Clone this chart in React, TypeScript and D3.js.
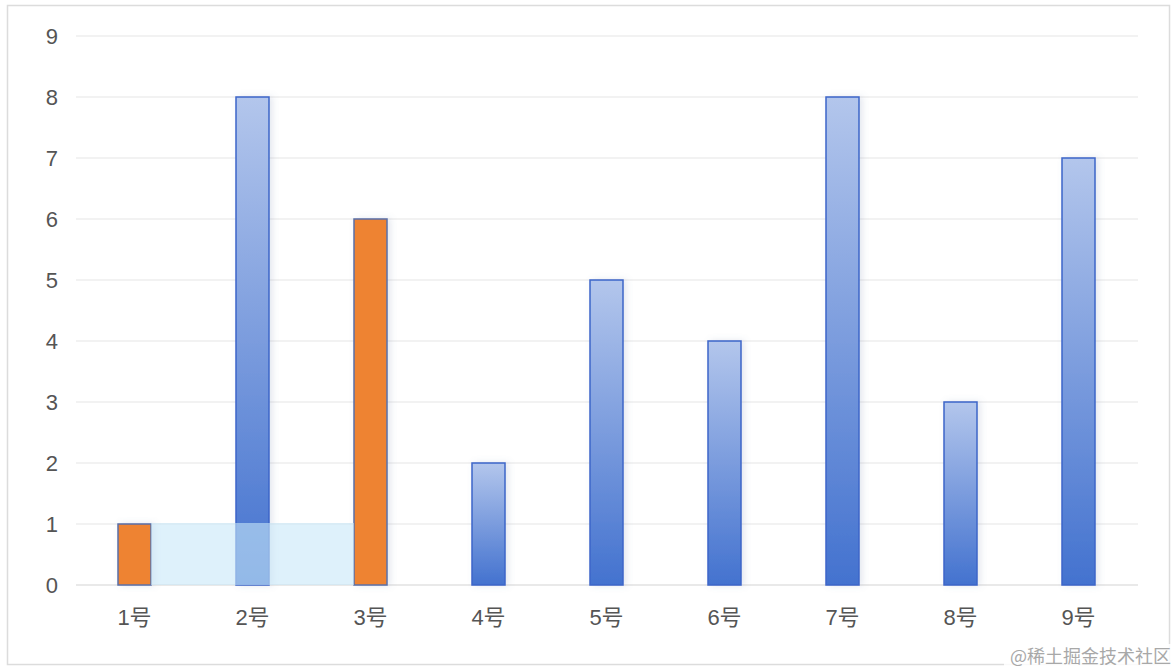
import React from "react";
import * as d3 from "d3";

const categories = ["1号", "2号", "3号", "4号", "5号", "6号", "7号", "8号", "9号"];
const values = [1, 8, 6, 2, 5, 4, 8, 3, 7];
const highlighted = ["1号", "3号"];
const yTicks = [0, 1, 2, 3, 4, 5, 6, 7, 8, 9];
const bandStart = "1号";
const bandEnd = "3号";
const bandValue = 1;
const watermark = "@稀土掘金技术社区";

const W = 1176;
const H = 672;
const FONT = "'Liberation Sans', 'Noto Sans CJK SC', Arial, sans-serif";

export default function App() {
  const x = d3.scaleBand<string>().domain(categories).range([76, 1138]).paddingInner(0).paddingOuter(0);
  const y = d3.scaleLinear().domain([0, 9]).range([585, 36]);
  const bw = 33;
  const cx = (c: string) => (x(c) as number) + x.bandwidth() / 2 - 0.5;

  const bx0 = cx(bandStart) + bw / 2;
  const bx1 = cx(bandEnd) - bw / 2;

  return (
    <svg width={W} height={H} style={{ position: "absolute", left: 0, top: 0, background: "#fff" }}>
      <defs>
        <linearGradient id="blueGrad" x1="0" y1="0" x2="0" y2="1">
          <stop offset="0%" stopColor="#b3c6ec" />
          <stop offset="100%" stopColor="#4372cf" />
        </linearGradient>
        <filter id="shadow" x="-30%" y="-10%" width="160%" height="120%">
          <feDropShadow dx="3" dy="0" stdDeviation="3" floodColor="#6b7fa8" floodOpacity="0.18" />
        </filter>
      </defs>
      <rect x={7.5} y={5.5} width={1162} height={659} fill="#fff" stroke="#dcdcdc" strokeWidth={1.5} />
      {yTicks.map((t) => (
        <g key={t}>
          <line x1={76} x2={1138} y1={y(t)} y2={y(t)} stroke={t === 0 ? "#d4d4d4" : "#e6e6e6"} strokeWidth={1.2} />
          <text x={58} y={y(t)} dy="0.36em" textAnchor="end" fontFamily={FONT} fontSize={22} fill="#555">
            {t}
          </text>
        </g>
      ))}
      {categories.map((c, i) => {
        const v = values[i];
        const isOrange = highlighted.includes(c);
        return (
          <rect
            key={c}
            x={cx(c) - bw / 2}
            y={y(v)}
            width={bw}
            height={y(0) - y(v)}
            fill={isOrange ? "#ee8330" : "url(#blueGrad)"}
            stroke={isOrange ? "#5a6fa8" : "#3d66c9"}
            strokeWidth={1.5}
            filter="url(#shadow)"
          />
        );
      })}
      <rect
        x={bx0}
        y={y(bandValue) - 1}
        width={bx1 - bx0}
        height={y(0) - y(bandValue) + 1}
        fill="rgb(200,232,248)"
        fillOpacity={0.6}
      />
      {categories.map((c) => (
        <text key={c} x={cx(c)} y={625} textAnchor="middle" fontFamily={FONT} fontSize={22} fill="#555">
          {c}
        </text>
      ))}
      <rect x={1004} y={644} width={172} height={24} fill="#fff" fillOpacity={0.85} />
      <text x={1171} y={663} textAnchor="end" fontFamily="'Noto Sans CJK SC', sans-serif" fontSize={18} fill="#a8a8a8">
        {watermark}
      </text>
    </svg>
  );
}
